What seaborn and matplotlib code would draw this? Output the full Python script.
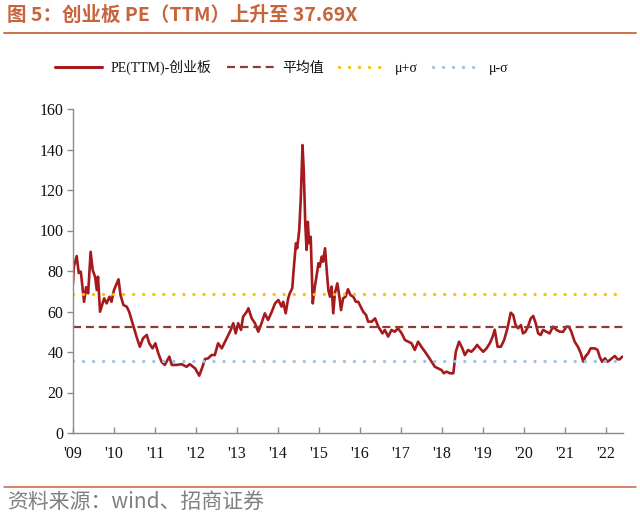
import numpy as np
import pandas as pd
import matplotlib
matplotlib.use("Agg")
import matplotlib.pyplot as plt
import seaborn as sns
from matplotlib.lines import Line2D

# ---------------- data ----------------
years = [
    2009.00, 2009.02, 2009.09, 2009.14, 2009.19, 2009.24, 2009.27, 2009.32, 2009.37, 2009.43,
    2009.48, 2009.54, 2009.58, 2009.61, 2009.66, 2009.71, 2009.76, 2009.82, 2009.89, 2009.94,
    2010.00, 2010.07, 2010.11, 2010.16, 2010.23, 2010.31, 2010.37, 2010.43, 2010.49, 2010.55,
    2010.63, 2010.71, 2010.80, 2010.86, 2010.94, 2011.01, 2011.08, 2011.16, 2011.24, 2011.35,
    2011.41, 2011.53, 2011.65, 2011.77, 2011.85, 2011.98, 2012.08, 2012.16, 2012.22, 2012.30,
    2012.38, 2012.46, 2012.54, 2012.63, 2012.71, 2012.77, 2012.85, 2012.91, 2012.97, 2013.03,
    2013.10, 2013.15, 2013.24, 2013.28, 2013.36, 2013.44, 2013.52, 2013.60, 2013.68, 2013.76,
    2013.85, 2013.93, 2014.01, 2014.09, 2014.13, 2014.19, 2014.25, 2014.29, 2014.35, 2014.39,
    2014.44, 2014.47, 2014.52, 2014.56, 2014.60, 2014.63, 2014.67, 2014.70, 2014.73, 2014.76,
    2014.80, 2014.85, 2014.90, 2014.94, 2014.99, 2015.02, 2015.07, 2015.10, 2015.15, 2015.19,
    2015.23, 2015.27, 2015.31, 2015.35, 2015.39, 2015.45, 2015.50, 2015.54, 2015.59, 2015.65,
    2015.71, 2015.77, 2015.84, 2015.90, 2015.96, 2016.02, 2016.08, 2016.15, 2016.20, 2016.29,
    2016.37, 2016.45, 2016.55, 2016.61, 2016.69, 2016.77, 2016.85, 2016.93, 2017.02, 2017.10,
    2017.18, 2017.26, 2017.34, 2017.42, 2017.50, 2017.59, 2017.67, 2017.75, 2017.83, 2017.91,
    2017.99, 2018.05, 2018.11, 2018.20, 2018.28, 2018.34, 2018.42, 2018.50, 2018.56, 2018.64,
    2018.72, 2018.80, 2018.86, 2018.93, 2019.01, 2019.09, 2019.17, 2019.24, 2019.29, 2019.36,
    2019.44, 2019.52, 2019.60, 2019.68, 2019.74, 2019.80, 2019.86, 2019.93, 2019.98, 2020.04,
    2020.10, 2020.17, 2020.23, 2020.29, 2020.35, 2020.41, 2020.47, 2020.55, 2020.63, 2020.71,
    2020.80, 2020.88, 2020.96, 2021.04, 2021.10, 2021.16, 2021.24, 2021.32, 2021.39, 2021.45,
    2021.50, 2021.57, 2021.63, 2021.73, 2021.80, 2021.85, 2021.91, 2021.98, 2022.04, 2022.10,
    2022.15, 2022.22, 2022.29, 2022.34, 2022.40,
]
pe_ttm = [
    73.9, 82.0, 87.4, 79.0, 79.7, 70.6, 64.8, 72.0, 69.0, 89.5,
    80.5, 77.0, 70.6, 77.2, 59.9, 63.2, 66.5, 64.0, 67.3, 64.8,
    70.6, 73.9, 75.9, 68.1, 63.2, 62.4, 59.9, 55.8, 51.7, 47.6,
    42.6, 46.8, 48.4, 44.3, 41.8, 44.3, 39.4, 35.2, 33.6, 37.7,
    33.6, 33.6, 34.0, 32.7, 34.0, 31.9, 28.3, 32.7, 36.5, 36.9,
    38.5, 38.5, 44.3, 41.8, 45.1, 47.6, 50.9, 54.2, 49.2, 54.2,
    50.9, 57.4, 59.9, 61.6, 56.6, 54.2, 50.0, 54.2, 59.1, 55.8,
    59.9, 64.0, 65.7, 62.4, 64.8, 59.1, 66.5, 69.0, 71.5, 82.1,
    93.7, 91.2, 100.2, 116.7, 142.2, 129.9, 101.9, 90.4, 104.3, 93.7,
    96.9, 64.0, 72.3, 77.2, 83.8, 82.1, 87.1, 84.6, 91.2, 80.5,
    70.6, 67.3, 72.3, 59.1, 69.0, 73.9, 67.3, 60.7, 66.5, 67.3,
    71.0, 68.1, 67.3, 64.8, 64.8, 62.4, 59.9, 58.3, 55.0, 55.0,
    56.6, 52.5, 49.2, 50.9, 47.6, 50.9, 50.0, 51.7, 49.2, 45.9,
    45.1, 44.3, 41.0, 45.1, 42.6, 40.1, 37.7, 35.2, 32.7, 31.9,
    31.1, 29.5, 30.3, 29.5, 29.5, 40.1, 45.1, 41.8, 38.5, 41.0,
    40.1, 41.8, 43.5, 41.8, 40.1, 41.8, 44.3, 47.6, 51.0, 42.6,
    42.6, 45.9, 51.7, 59.4, 58.3, 53.3, 51.7, 53.3, 49.2, 50.0,
    52.5, 56.6, 57.8, 54.2, 49.2, 48.4, 50.9, 50.0, 49.2, 52.5,
    50.9, 50.0, 50.0, 52.5, 52.5, 50.0, 45.1, 42.6, 39.4, 35.2,
    37.7, 39.4, 41.8, 41.8, 41.0, 37.7, 35.2, 36.9, 35.2, 36.0,
    36.9, 38.0, 36.4, 36.4, 37.69,
]
mean_val = 52.1
sigma_val = 16.7

tick_years = list(range(2009, 2023))
tick_labels = ["'09", "'10", "'11", "'12", "'13", "'14", "'15", "'16",
               "'17", "'18", "'19", "'20", "'21", "'22"]
y_ticks = [0, 20, 40, 60, 80, 100, 120, 140, 160]

series_label = "PE(TTM)-创业板"
mean_label = "平均值"
plus_label = "μ+σ"
minus_label = "μ-σ"
title_text = "图 5：创业板 PE（TTM）上升至 37.69X"
source_text = "资料来源：wind、招商证券"

# ---------------- style ----------------
sns.set_theme(style="white")
plt.rcParams["font.family"] = ["Liberation Serif", "Noto Sans CJK SC", "DejaVu Sans"]

C_MAIN = "#A6191D"
C_MEAN = "#8E3B38"
C_PLUS = "#FFC000"
C_MINUS = "#9DC3E6"
C_ACCENT = "#C8643C"

fig = plt.figure(figsize=(6.40, 5.17), dpi=100)
ax = fig.add_axes([73 / 640, 1 - 433 / 517, (623 - 73) / 640, (433 - 109) / 517])

df = pd.DataFrame({"year": years, "pe": pe_ttm})
sns.lineplot(data=df, x="year", y="pe", ax=ax, color=C_MAIN, linewidth=1.9, legend=False)

ax.axhline(mean_val, color=C_MEAN, linewidth=1.6, linestyle=(0, (3.6, 2.2)))
ax.axhline(mean_val + sigma_val, color=C_PLUS, linewidth=2.4,
           linestyle=(0, (0.01, 3.0)), dash_capstyle="round")
ax.axhline(mean_val - sigma_val, color=C_MINUS, linewidth=2.4,
           linestyle=(0, (0.01, 3.0)), dash_capstyle="round")

ax.set_xlim(2009.0, 2022.42)
ax.set_ylim(0, 160)
ax.set_xticks(tick_years)
ax.set_xticklabels(tick_labels)
ax.set_yticks(y_ticks)
ax.set_xlabel("")
ax.set_ylabel("")

for s in ["top", "right"]:
    ax.spines[s].set_visible(False)
for s in ["left", "bottom"]:
    ax.spines[s].set_color("#8C8C8C")
    ax.spines[s].set_linewidth(1.0)

ax.tick_params(axis="y", direction="out", length=4, width=1, color="#8C8C8C",
               labelsize=11.5, labelcolor="#111111", pad=3, left=True)
ax.tick_params(axis="x", direction="in", length=4, width=1, color="#8C8C8C",
               labelsize=11.5, labelcolor="#111111", pad=9, bottom=True)
for lab in ax.get_xticklabels() + ax.get_yticklabels():
    lab.set_family(["Liberation Serif"])

# legend
handles = [
    Line2D([], [], color=C_MAIN, linewidth=2.2),
    Line2D([], [], color=C_MEAN, linewidth=1.6, linestyle=(0, (3.6, 2.2))),
    Line2D([], [], color=C_PLUS, linewidth=2.4, linestyle=(0, (0.01, 3.0)), dash_capstyle="round"),
    Line2D([], [], color=C_MINUS, linewidth=2.4, linestyle=(0, (0.01, 3.0)), dash_capstyle="round"),
]
leg = fig.legend(handles, [series_label, mean_label, plus_label, minus_label],
                 loc="center left", bbox_to_anchor=(55 / 640, 1 - 67 / 517),
                 ncol=4, frameon=False, fontsize=10, handlelength=3.4,
                 handletextpad=0.6, columnspacing=1.1, borderpad=0, borderaxespad=0)
for t in leg.get_texts():
    t.set_color("#111111")
    t.set_family(["Liberation Serif", "Noto Sans CJK SC"])

# title & decorations
fig.text(7 / 640, 1 - 15 / 517, title_text, fontsize=14, fontweight="bold",
         color=C_ACCENT, ha="left", va="center",
         family=["Noto Sans CJK SC", "DejaVu Sans"])
fig.add_artist(Line2D([4 / 640, 636 / 640], [1 - 33 / 517, 1 - 33 / 517],
                      color=C_ACCENT, linewidth=1.3, transform=fig.transFigure))
fig.add_artist(Line2D([4 / 640, 636 / 640], [1 - 487 / 517, 1 - 487 / 517],
                      color=C_ACCENT, linewidth=1.1, transform=fig.transFigure))
fig.text(7 / 640, 1 - 502 / 517, source_text, fontsize=15, color="#7F7F7F",
         ha="left", va="center", family=["Noto Sans CJK SC", "DejaVu Sans"])

fig.savefig("out.png", dpi=100, facecolor="white")
